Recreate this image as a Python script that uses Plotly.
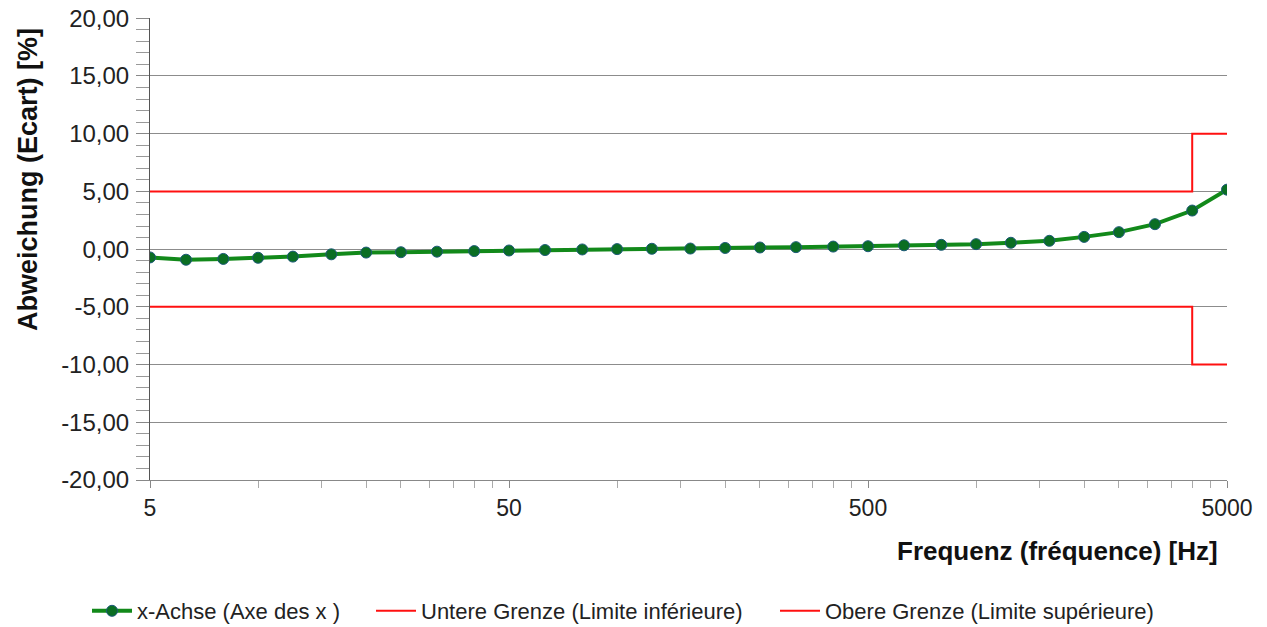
import plotly.graph_objects as go

# Data
freq_hz = [5, 6.3, 8, 10, 12.5, 16, 20, 25, 31.5, 40, 50, 63, 80, 100, 125, 160, 200,
           250, 315, 400, 500, 630, 800, 1000, 1250, 1600, 2000, 2500, 3150, 4000, 5000]
deviation_pct = [-0.72, -0.92, -0.85, -0.75, -0.65, -0.45, -0.30, -0.27, -0.22, -0.17,
                 -0.12, -0.08, -0.03, 0.00, 0.03, 0.05, 0.10, 0.14, 0.17, 0.22, 0.25,
                 0.33, 0.37, 0.43, 0.55, 0.72, 1.06, 1.47, 2.16, 3.34, 5.15]
limit_freq = [5, 4000, 5000]
lower_limit = [-5, -10, -10]
upper_limit = [5, 10, 10]
x_tickvals = [5, 50, 500, 5000]
x_minor_ticks = [10, 15, 20, 25, 30, 35, 40, 45,
                 100, 150, 200, 250, 300, 350, 400, 450,
                 1000, 1500, 2000, 2500, 3000, 3500, 4000, 4500]
y_tickvals = [-20, -15, -10, -5, 0, 5, 10, 15, 20]
y_ticktext = ["-20,00", "-15,00", "-10,00", "-5,00", "0,00", "5,00", "10,00", "15,00", "20,00"]

names = ["x-Achse (Axe des x )", "Untere Grenze (Limite inférieure)", "Obere Grenze (Limite supérieure)"]

FONT = "Liberation Sans, Arial, sans-serif"
fig = go.Figure()
fig.add_trace(go.Scatter(
    x=freq_hz, y=deviation_pct, mode="lines+markers", name=names[0],
    line=dict(color="#12891a", width=4),
    marker=dict(color="#0a6e23", size=11, line=dict(color="#1d5a78", width=1)),
    legend="legend"))
fig.add_trace(go.Scatter(
    x=limit_freq, y=lower_limit, mode="lines", name=names[1], line_shape="hv",
    line=dict(color="#ff1010", width=2), legend="legend2"))
fig.add_trace(go.Scatter(
    x=limit_freq, y=upper_limit, mode="lines", name=names[2], line_shape="hv",
    line=dict(color="#ff1010", width=2), legend="legend3"))

# Body margin is removed below, so figure pixels equal page pixels.
W, H = 1267, 627
PL, PR, PT, PB = 150, 1227, 18, 480          # plot area in page pixels
L, R, T, B = PL, W - PR, PT, H - PB
pw, ph = PR - PL, PB - PT

def px(x):
    return (x - PL) / pw

def py(y):
    return (PB - y) / ph

legend_common = dict(orientation="h", font=dict(family=FONT, size=22, color="#222"),
                     yanchor="middle", xanchor="left", bgcolor="rgba(0,0,0,0)", itemwidth=40)

fig.update_layout(
    width=W, height=H,
    margin=dict(l=L, r=R, t=T, b=B, autoexpand=False),
    paper_bgcolor="white", plot_bgcolor="white",
    showlegend=True,
    font=dict(family=FONT, size=24, color="#222"),
    legend=dict(x=px(87), y=py(611), **legend_common),
    legend2=dict(x=px(371), y=py(611), **legend_common),
    legend3=dict(x=px(775), y=py(611), **legend_common),
    xaxis=dict(
        type="log", range=[0.69897, 3.69897], automargin=False,
        tickvals=x_tickvals, ticktext=[str(v) for v in x_tickvals],
        ticks="outside", ticklen=7, tickcolor="#888",
        showgrid=False, showline=True, linecolor="#888", linewidth=1,
        minor=dict(tickvals=x_minor_ticks, ticks="outside", ticklen=7, tickcolor="#aaa", showgrid=False),
        tickfont=dict(size=23, family=FONT, color="#222"),
        ticklabeloverflow="allow",
        zeroline=False,
    ),
    yaxis=dict(
        range=[-20, 20.02], automargin=False,
        tickvals=y_tickvals, ticktext=y_ticktext,
        ticks="outside", ticklen=13, tickcolor="#888",
        showgrid=True, gridcolor="#8c8c8c", gridwidth=1,
        showline=True, linecolor="#555", linewidth=1,
        minor=dict(dtick=1, ticks="outside", ticklen=13, tickcolor="#999", showgrid=False),
        tickfont=dict(size=24, family=FONT, color="#222"),
        ticklabelstandoff=2,
        ticklabeloverflow="allow",
        zeroline=False,
    ),
    annotations=[
        dict(text="<b>Abweichung (Ecart) [%]</b>", xref="paper", yref="paper",
             x=px(28), y=py(180), xanchor="center", yanchor="middle", textangle=-90,
             showarrow=False, font=dict(family=FONT, size=27, color="#111")),
        dict(text="<b>Frequenz (fréquence) [Hz]</b>", xref="paper", yref="paper",
             x=px(1220), y=py(551), xanchor="right", yanchor="middle",
             showarrow=False, font=dict(family=FONT, size=26, color="#111")),
    ],
)

fig.write_html("out.html",
               config={"displayModeBar": False},
               post_script="document.body.style.margin='0';document.body.style.overflow='hidden';")
